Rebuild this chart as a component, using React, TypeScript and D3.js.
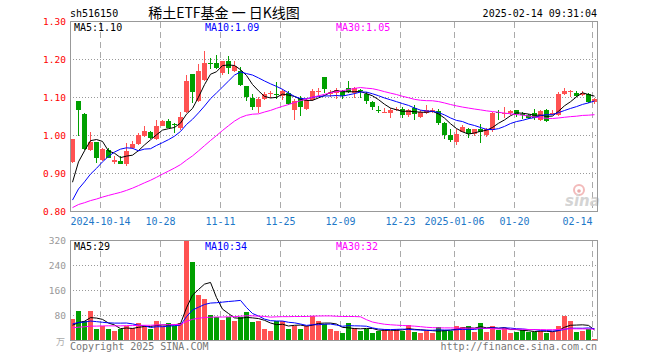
import React from "react";
import * as d3 from "d3";

// ---------- data ----------
const opens = [0.930,1.090,1.056,0.962,0.982,0.936,0.962,0.930,0.933,0.926,0.967,0.977,1.000,1.009,0.991,1.026,1.037,1.030,1.019,1.061,1.161,1.091,1.145,1.190,1.190,1.164,1.197,1.171,1.171,1.129,1.099,1.075,1.096,1.110,1.110,1.105,1.112,1.068,1.099,1.070,1.094,1.114,1.154,1.108,1.112,1.117,1.124,1.112,1.121,1.110,1.089,1.068,1.061,1.058,1.068,1.071,1.054,1.073,1.049,1.058,1.065,1.065,1.032,1.001,0.983,1.008,1.018,1.005,1.018,1.001,1.014,1.062,1.058,1.058,1.067,1.057,1.053,1.058,1.040,1.067,1.058,1.053,1.110,1.117,1.113,1.106,1.109,1.087];
const closes = [0.990,1.068,0.965,0.984,0.940,0.965,0.942,0.936,0.926,0.960,0.977,1.002,1.011,0.993,1.026,1.039,1.021,1.027,1.050,1.144,1.114,1.170,1.191,1.187,1.177,1.195,1.178,1.184,1.132,1.101,1.076,1.095,1.110,1.112,1.109,1.118,1.083,1.092,1.075,1.094,1.118,1.116,1.123,1.115,1.119,1.103,1.115,1.124,1.118,1.091,1.074,1.065,1.063,1.068,1.069,1.053,1.067,1.056,1.062,1.067,1.067,1.032,1.001,0.988,1.004,1.023,1.003,1.016,1.009,1.018,1.060,1.058,1.060,1.064,1.056,1.055,1.047,1.045,1.065,1.039,1.060,1.110,1.117,1.118,1.104,1.113,1.087,1.096];
const highs = [0.992,1.092,1.060,1.010,0.984,0.968,0.967,0.945,0.947,0.980,0.986,1.006,1.024,1.012,1.041,1.042,1.044,1.032,1.061,1.160,1.163,1.188,1.222,1.204,1.212,1.197,1.209,1.197,1.180,1.131,1.110,1.101,1.114,1.118,1.142,1.123,1.117,1.096,1.105,1.100,1.123,1.125,1.155,1.121,1.124,1.121,1.144,1.128,1.122,1.114,1.090,1.078,1.073,1.072,1.075,1.075,1.071,1.080,1.066,1.080,1.073,1.070,1.035,1.018,1.016,1.027,1.021,1.018,1.030,1.021,1.063,1.067,1.075,1.066,1.068,1.062,1.057,1.071,1.067,1.069,1.067,1.115,1.126,1.119,1.116,1.116,1.111,1.098];
const lows = [0.928,1.000,0.963,0.958,0.927,0.934,0.940,0.925,0.924,0.921,0.965,0.975,0.996,0.990,0.989,1.024,1.019,1.006,1.015,1.059,1.085,1.089,1.143,1.175,1.174,1.158,1.162,1.168,1.129,1.092,1.066,1.059,1.094,1.100,1.096,1.094,1.079,1.040,1.052,1.066,1.092,1.105,1.111,1.102,1.097,1.097,1.111,1.100,1.100,1.084,1.067,1.060,1.058,1.047,1.065,1.047,1.050,1.040,1.047,1.056,1.060,1.028,0.992,0.983,0.975,1.008,0.993,0.998,0.979,0.995,1.009,1.040,1.047,1.055,1.050,1.044,1.044,1.042,1.037,1.036,1.055,1.051,1.106,1.102,1.102,1.104,1.085,1.082];
const volumes = [68,96,62,96,37,47,37,32,37,47,40,55,45,37,64,47,55,48,55,318,250,145,134,82,75,66,75,64,75,90,58,64,36,32,64,64,36,47,36,47,79,64,53,36,32,25,57,41,32,38,25,30,38,32,38,32,49,28,25,30,25,43,34,32,47,43,47,28,57,28,47,34,41,25,28,34,28,28,32,25,28,47,80,64,28,32,38,6];
// sessions before the visible window (only feed the moving averages)
const prevCloses = [0.825,0.822,0.818,0.815,0.812,0.810,0.812,0.808,0.805,0.800,0.798,0.795,0.792,0.790,0.788,0.785,0.783,0.782,0.785,0.783,0.775,0.778,0.780,0.788,0.794,0.800,0.820,0.850,0.925];
const prevVolumes = [30,28,35,32,26,30,38,34,29,31,36,40,33,30,35,38,42,36,39,43,48,52,60,58,67,55,40,38,44];

const tickIndex = [5, 15, 25, 35, 45, 55, 64, 74, 87];
const tickLabels = ["2024-10-14", "10-28", "11-11", "11-25", "12-09", "12-23", "2025-01-06", "01-20", "02-14"];
const priceTicks = [1.3, 1.2, 1.1, 1.0, 0.9, 0.8];
const volumeTicks = [320, 240, 160, 80];
const maPeriods = [5, 10, 30];
const priceLegend = ["1.10", "1.09", "1.05"];
const volumeLegend = ["29", "34", "32"];

const RED = "#ff5252";
const GREEN = "#00a000";
const MA_COLORS = ["#000000", "#0000ff", "#ff00ff"];
const MONO = "'DejaVu Sans Mono', 'Liberation Mono', monospace";

function movingAverage(prev: number[], vals: number[], n: number): number[] {
  const all = prev.concat(vals);
  const off = prev.length;
  return vals.map((_, i) => {
    const k = i + off;
    const s = all.slice(k - n + 1, k + 1);
    return d3.sum(s) / s.length;
  });
}

export default function App() {
  const n = closes.length;
  const L = 70, R = 597;
  const x = d3.scaleBand<number>().domain(d3.range(n)).range([L, L + n * 6 - 1]).paddingInner(1 / 6).paddingOuter(0);
  const bw = x.bandwidth();
  const cx = (i: number) => (x(i) as number) + Math.floor(bw / 2) + 0.5;

  const y = d3.scaleLinear().domain([0.8, 1.3]).range([211.5, 21.5]);
  const yv = d3.scaleLinear().domain([0, 320]).range([340.5, 240.5]);

  const priceMAs = maPeriods.map((p) => movingAverage(prevCloses, closes, p));
  const volMAs = maPeriods.map((p) => movingAverage(prevVolumes, volumes, p));
  const line = (scale: d3.ScaleLinear<number, number>) =>
    d3.line<number>().x((_, i) => cx(i)).y((d) => scale(d));

  const gridX = tickIndex.map((t) => (x(t) as number) + 0.5);

  return (
    <svg width={660} height={360} style={{ display: "block", position: "absolute", left: 0, top: 0, background: "#fff" }}>
      <rect x={0} y={0} width={660} height={360} fill="#fff" />
      {/* header */}
      <text x={70} y={17} fontFamily={MONO} fontSize={10} fill="#000">sh516150</text>
      <text x={224} y={18} fontFamily="'Noto Sans CJK SC', sans-serif" fontSize={14} fill="#000" textAnchor="middle">稀土ETF基金 一 日K线图</text>
      <text x={597} y={17} fontFamily={MONO} fontSize={10} fill="#000" textAnchor="end">2025-02-14 09:31:04</text>

      <g shapeRendering="crispEdges">
        {/* main grid */}
        {priceTicks.slice(1, -1).map((t) => (
          <line key={"hp" + t} x1={L} x2={R} y1={y(t)} y2={y(t)} stroke="#999" strokeDasharray="1,2" />
        ))}
        {gridX.map((gx, k) => (
          <line key={"vp" + k} x1={gx} x2={gx} y1={21.5} y2={211.5} stroke="#aaa" strokeDasharray="6,4" />
        ))}
        {/* volume grid */}
        {volumeTicks.slice(1).map((t) => (
          <line key={"hv" + t} x1={L} x2={R} y1={yv(t)} y2={yv(t)} stroke="#999" strokeDasharray="1,2" />
        ))}
        {gridX.map((gx, k) => (
          <line key={"vv" + k} x1={gx} x2={gx} y1={240.5} y2={340.5} stroke="#aaa" strokeDasharray="6,4" />
        ))}
      </g>

      {/* sina watermark */}
      <g opacity={0.9}>
        <circle cx={579} cy={190} r={5} fill="none" stroke="#f2b3b3" strokeWidth={2} />
        <circle cx={579} cy={191} r={1.8} fill="#e8a0a0" />
        <text x={565} y={206} fontFamily="'DejaVu Sans', sans-serif" fontStyle="italic" fontWeight="bold" fontSize={15} fill="#d0d0d0">sina</text>
      </g>

      <g shapeRendering="crispEdges">
        {/* candles */}
        {closes.map((c, i) => {
          const o = opens[i];
          const col = c >= o ? RED : GREEN;
          const top = y(Math.max(o, c));
          const bot = y(Math.min(o, c));
          return (
            <g key={"c" + i}>
              <line x1={cx(i)} x2={cx(i)} y1={y(highs[i])} y2={y(lows[i])} stroke={col} />
              <rect x={x(i)} y={top} width={bw} height={Math.max(1, bot - top)} fill={col} />
            </g>
          );
        })}
        {/* volume bars */}
        {volumes.map((v, i) => (
          <rect key={"v" + i} x={x(i)} y={yv(v)} width={bw} height={340.5 - yv(v)} fill={closes[i] >= opens[i] ? RED : GREEN} />
        ))}
      </g>

      {/* moving averages */}
      {priceMAs.map((m, k) => (
        <path key={"pm" + k} d={line(y)(m) || ""} fill="none" stroke={MA_COLORS[k]} strokeWidth={1} />
      ))}
      {volMAs.map((m, k) => (
        <path key={"vm" + k} d={line(yv)(m) || ""} fill="none" stroke={MA_COLORS[k]} strokeWidth={1} />
      ))}

      {/* frames */}
      <g shapeRendering="crispEdges" fill="none" stroke="#999">
        <rect x={70.5} y={21.5} width={527} height={190} />
        <rect x={70.5} y={240.5} width={527} height={100} />
      </g>

      {/* legends */}
      {maPeriods.map((p, k) => (
        <text key={"pl" + k} x={74 + k * 131} y={31} fontFamily={MONO} fontSize={10} fill={MA_COLORS[k]}>{`MA${p}:${priceLegend[k]}`}</text>
      ))}
      {maPeriods.map((p, k) => (
        <text key={"vl" + k} x={74 + k * 131} y={250} fontFamily={MONO} fontSize={10} fill={MA_COLORS[k]}>{`MA${p}:${volumeLegend[k]}`}</text>
      ))}

      {/* y axis labels */}
      {priceTicks.map((t) => (
        <text key={"yl" + t} x={66} y={y(t) + 3.5} fontFamily={MONO} fontSize={9.5} fill="#ff0000" textAnchor="end">{t.toFixed(2)}</text>
      ))}
      {volumeTicks.map((t) => (
        <text key={"vyl" + t} x={66} y={yv(t) + 3.5} fontFamily={MONO} fontSize={9.5} fill="#999" textAnchor="end">{t}</text>
      ))}
      <text x={56} y={345} fontFamily="'Noto Sans CJK SC', sans-serif" fontSize={9} fill="#aaa">万</text>

      {/* x axis labels */}
      {tickIndex.map((t, k) => {
        const last = k === tickIndex.length - 1;
        return (
          <text key={"xl" + k} x={gridX[k]} y={225} fontFamily={MONO} fontSize={10} fill="#1e78c8" textAnchor={last ? "end" : "middle"}>{tickLabels[k]}</text>
        );
      })}

      {/* footer */}
      <text x={70} y={350} fontFamily={MONO} fontSize={10} fill="#777">Copyright 2025 SINA.COM</text>
      <text x={597} y={350} fontFamily={MONO} fontSize={10} fill="#777" textAnchor="end">http://finance.sina.com.cn</text>
    </svg>
  );
}
